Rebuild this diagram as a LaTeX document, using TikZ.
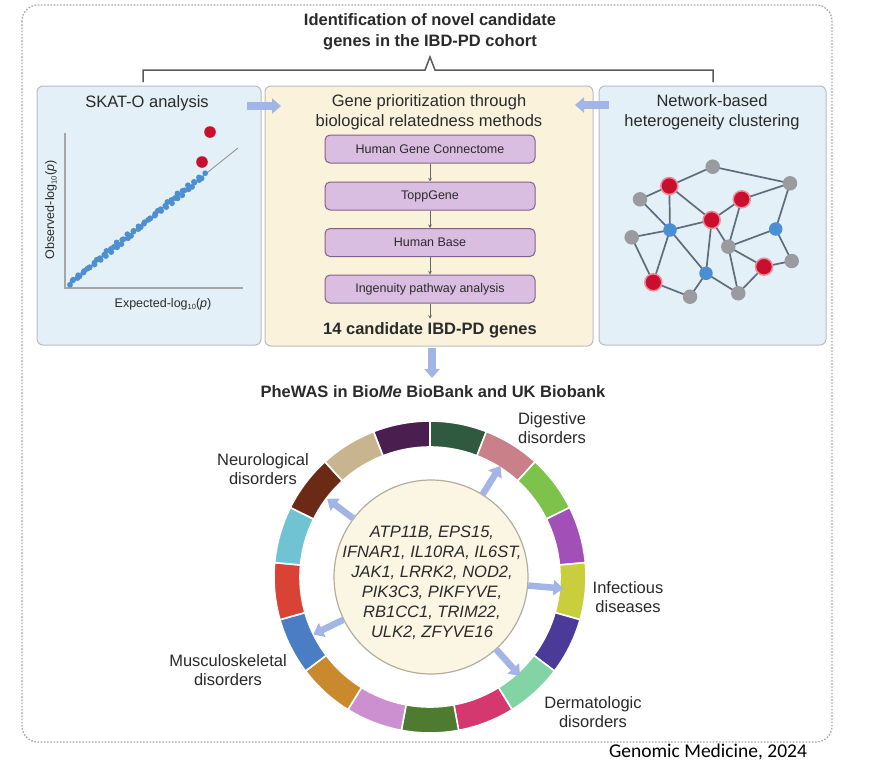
\documentclass[tikz,border=0pt]{standalone}
\usepackage{fontspec}
\setmainfont{Liberation Sans}
\newfontfamily\calibfont{Carlito}
\usetikzlibrary{arrows.meta,calc}
\definecolor{txt}{HTML}{2A2A2A}
\definecolor{outerc}{HTML}{A8A8A8}
\definecolor{panelborder}{HTML}{B9BDC0}
\definecolor{skyfill}{HTML}{E3F0F7}
\definecolor{creamfill}{HTML}{FBF2DC}
\definecolor{boxfill}{HTML}{D9BEE2}
\definecolor{boxborder}{HTML}{7E6487}
\definecolor{arrowblue}{HTML}{A3B5E6}
\definecolor{netedge}{HTML}{606C7B}
\definecolor{netred}{HTML}{C8102E}
\definecolor{netredhalo}{HTML}{EE8A9A}
\definecolor{netgray}{HTML}{9A9BA0}
\definecolor{netblue}{HTML}{4A8FD6}
\definecolor{dotblue}{HTML}{4E8FD0}
\definecolor{corefill}{HTML}{FBF5E4}
\definecolor{coreborder}{HTML}{B3AD9C}
\definecolor{rc1}{HTML}{2F5A40}
\definecolor{rc2}{HTML}{C98088}
\definecolor{rc3}{HTML}{7DC24B}
\definecolor{rc4}{HTML}{A24FB8}
\definecolor{rc5}{HTML}{C9CF3C}
\definecolor{rc6}{HTML}{4B3A98}
\definecolor{rc7}{HTML}{82D4A4}
\definecolor{rc8}{HTML}{D5386F}
\definecolor{rc9}{HTML}{4E7B2F}
\definecolor{rc10}{HTML}{CC90D0}
\definecolor{rc11}{HTML}{C88A2C}
\definecolor{rc12}{HTML}{4A7DC4}
\definecolor{rc13}{HTML}{DB4236}
\definecolor{rc14}{HTML}{70C3D3}
\definecolor{rc15}{HTML}{6B2A16}
\definecolor{rc16}{HTML}{C8B58F}
\definecolor{rc17}{HTML}{4A1E4E}
\newcommand{\lsub}[1]{\raisebox{-0.35ex}{\fontsize{7.5}{8}\selectfont #1}}
\tikzset{
  panel/.style={draw=panelborder, line width=1pt, rounded corners=6pt, inner sep=0pt},
  ttl/.style={font=\fontsize{16.5}{19.5}\selectfont, text=txt, align=center},
  btitle/.style={font=\bfseries\fontsize{16.5}{21.5}\selectfont, text=txt, align=center},
  pbox/.style={draw=boxborder, fill=boxfill, rounded corners=5pt, minimum width=210pt, minimum height=28pt, line width=1pt, font=\fontsize{12.5}{14}\selectfont, text=txt},
  smallarr/.style={draw=black!60, line width=0.7pt, -{Stealth[length=3.5pt,width=3.5pt]}},
  blockarrow/.style={draw=arrowblue, line width=7.5pt, -{Triangle[width=15pt,length=9pt]}},
  ringarrow/.style={draw=arrowblue, line width=6.5pt, -{Triangle[width=15pt,length=10pt]}},
  netline/.style={draw=netedge, line width=1.7pt},
  rnode/.style={circle, fill=netred, draw=netredhalo, line width=1.5pt, minimum size=17pt, inner sep=0pt},
  gnode/.style={circle, fill=netgray, minimum size=14.5pt, inner sep=0pt},
  bnode/.style={circle, fill=netblue, minimum size=13.5pt, inner sep=0pt},
  lbl/.style={font=\fontsize{16.5}{19.5}\selectfont, text=txt, align=center},
  axlbl/.style={font=\fontsize{12.5}{14}\selectfont, text=txt}
}
\begin{document}
\begin{tikzpicture}[x=1pt,y=-1pt]
\useasboundingbox (0,0) rectangle (870,777);
\fill[white] (0,0) rectangle (870,777);

% outer dashed frame
\draw[outerc, line width=1.3pt, dash pattern=on 1.6pt off 1.6pt, rounded corners=16pt] (22,5) rectangle (832,742);

% title and bracket
\node[btitle] (title) at (430,32) {Identification of novel candidate\\genes in the IBD-PD cohort};
\coordinate (bl) at (143,82); \coordinate (blt) at (143,70);
\coordinate (bm1) at (425,70); \coordinate (bpk) at (430,57); \coordinate (bm2) at (435,70);
\coordinate (brt) at (713,70); \coordinate (br) at (713,82);
\draw[black!65, line width=1.5pt] (bl) -- (blt) -- (bm1) -- (bpk) -- (bm2) -- (brt) -- (br);

% panels
\node[panel, fill=skyfill, minimum width=224pt, minimum height=259pt] (left) at (149,215.5) {};
\node[panel, fill=creamfill, minimum width=328pt, minimum height=260pt] (center) at (429,216) {};
\node[panel, fill=skyfill, minimum width=227pt, minimum height=259pt] (right) at (712.5,215.5) {};

% left panel
\node[ttl] (skat) at (147,103) {SKAT-O analysis};
\coordinate (ytop) at (65,133); \coordinate (orig) at (65,288); \coordinate (xend) at (243,288);
\draw[black!35, line width=1.3pt] (ytop) -- (orig) -- (xend);
\coordinate (d1) at (68,284); \coordinate (d2) at (238,148);
\draw[black!40, line width=1pt] (d1) -- (d2);
\foreach \i in {0,...,64}{
  \pgfmathsetmacro{\tt}{\i/64}
  \pgfmathsetmacro{\jx}{1.5*sin(\i*137)}
  \pgfmathsetmacro{\jy}{1.8*cos(\i*211)}
  \fill[dotblue] ({70+134*\tt+\jx},{283-108*\tt+\jy}) circle[radius=2.9pt];
}
\fill[netred] (210,132) circle[radius=5.8pt];
\fill[netred] (202,162) circle[radius=5.8pt];
\node[axlbl] (xlab) at (163,304) {Expected-log\lsub{10}(\textit{p})};
\node[axlbl, rotate=90] (ylab) at (51,210) {Observed-log\lsub{10}(\textit{p})};

% center panel
\node[ttl] (ctitle) at (429,112) {Gene prioritization through\\biological relatedness methods};
\node[pbox] (b1) at (430,149) {Human Gene Connectome};
\node[pbox] (b2) at (430,196) {ToppGene};
\node[pbox] (b3) at (430,242.5) {Human Base};
\node[pbox] (b4) at (430,289) {Ingenuity pathway analysis};
\node[btitle] (cand) at (430,330) {14 candidate IBD-PD genes};
\draw[smallarr] (b1) -- (b2);
\draw[smallarr] (b2) -- (b3);
\draw[smallarr] (b3) -- (b4);
\draw[smallarr] (b4) -- (cand);

% right panel
\node[ttl] (rtitle) at (712,112) {Network-based\\heterogeneity clustering};
\coordinate (A) at (712.7,166.7);
\coordinate (B) at (669.3,186);
\coordinate (C) at (640,199.3);
\coordinate (D) at (790,183.3);
\coordinate (E) at (741.7,199.3);
\coordinate (F) at (711.7,220);
\coordinate (G) at (670,230);
\coordinate (H) at (631.7,237.3);
\coordinate (I) at (775.7,229);
\coordinate (J) at (728.3,246.7);
\coordinate (K) at (764,266.7);
\coordinate (L) at (791.7,261);
\coordinate (M) at (706,273.3);
\coordinate (N) at (653.3,282.3);
\coordinate (O) at (690,296.7);
\coordinate (P) at (738.3,293.3);
\foreach \u/\v in {A/B,A/D,B/C,B/G,B/F,C/G,D/E,D/I,E/F,E/J,F/G,F/M,F/J,G/H,G/N,G/M,M/P,H/N,N/O,O/M,J/I,J/K,J/P,I/L,L/K,K/P}
  \draw[netline] (\u) -- (\v);
\foreach \n in {A,C,D,H,J,L,O,P} \node[gnode] at (\n) {};
\foreach \n in {G,I,M} \node[bnode] at (\n) {};
\foreach \n in {B,E,F,K,N} \node[rnode] at (\n) {};

% arrows between panels
\coordinate (a1s) at (247,106); \coordinate (a1e) at (281,106);
\coordinate (a2s) at (609,105); \coordinate (a2e) at (575,105);
\coordinate (dns) at (432,348); \coordinate (dne) at (432,378);
\draw[blockarrow] (a1s) -- (a1e);
\draw[blockarrow] (a2s) -- (a2e);
\draw[blockarrow] (dns) -- (dne);

% PheWAS
\node[btitle] (phewas) at (433,392) {PheWAS in Bio\textit{Me} BioBank and UK Biobank};

% ring
\begin{scope}[shift={(430,577)}]
\foreach \k in {1,...,17}{
  \pgfmathsetmacro{\aa}{90-(\k-1)*360/17}
  \pgfmathsetmacro{\ab}{90-\k*360/17}
  \fill[rc\k, draw=white, line width=1.6pt] (\aa:130pt) arc[start angle=\aa, end angle=\ab, radius=130pt] -- (\ab:156pt) arc[start angle=\ab, end angle=\aa, radius=156pt] -- cycle;
}
\end{scope}
\node[circle, fill=corefill, draw=coreborder, line width=1.2pt, minimum size=194pt, inner sep=0pt] (core) at (431,577) {};
\node[font=\itshape\fontsize{16.5}{20}\selectfont, text=txt, align=center] (genes) at (432,583) {ATP11B, EPS15,\\IFNAR1, IL10RA, IL6ST,\\JAK1, LRRK2, NOD2,\\PIK3C3, PIKFYVE,\\RB1CC1, TRIM22,\\ULK2, ZFYVE16};

\coordinate (tdig) at ($(431,577)+(58:131pt)$);
\coordinate (tneu) at ($(431,577)+(143:130pt)$);
\coordinate (tinf) at ($(431,577)+(-5:133pt)$);
\coordinate (tmus) at ($(431,577)+(206:131pt)$);
\coordinate (tder) at ($(431,577)+(-48:133pt)$);
\draw[ringarrow] (core.58) -- (tdig);
\draw[ringarrow] (core.143) -- (tneu);
\draw[ringarrow] (core.-5) -- (tinf);
\draw[ringarrow] (core.206) -- (tmus);
\draw[ringarrow] (core.-48) -- (tder);

\node[lbl] (ldig) at (552,428) {Digestive\\disorders};
\node[lbl] (lneu) at (263,469) {Neurological\\disorders};
\node[lbl] (linf) at (628,597) {Infectious\\diseases};
\node[lbl] (lmus) at (228,670) {Musculoskeletal\\disorders};
\node[lbl] (lder) at (593,712) {Dermatologic\\disorders};

% footer
\node[font=\calibfont\fontsize{19.5}{22}\selectfont, text=black] (foot) at (708,752) {Genomic Medicine, 2024};
\end{tikzpicture}
\end{document}
